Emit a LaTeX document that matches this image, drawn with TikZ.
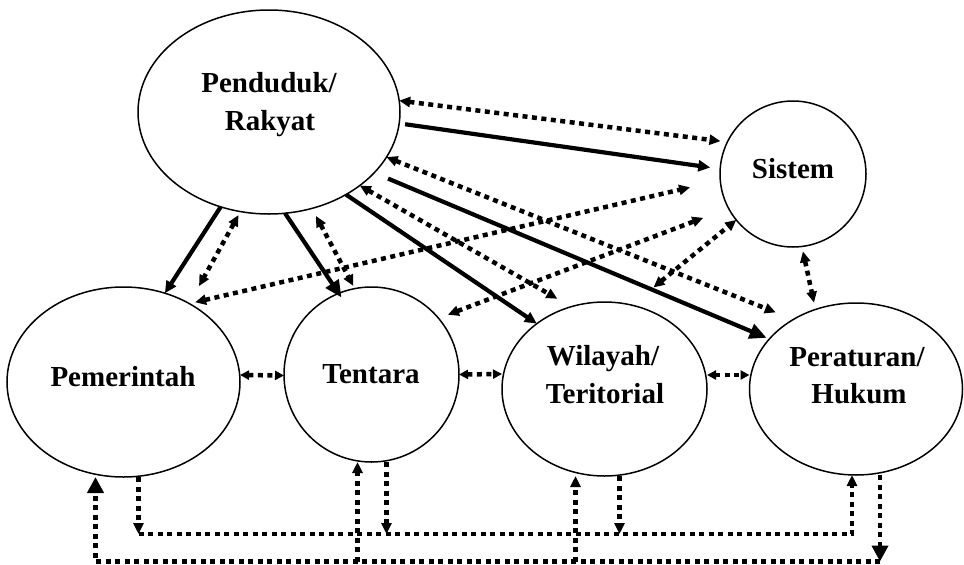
\documentclass[tikz,border=0pt]{standalone}
\usepackage{fontspec}
\setmainfont{Liberation Serif}
\usetikzlibrary{shapes.geometric,arrows.meta,calc}
\tikzset{
  bub/.style={draw, ellipse, line width=1.5pt, inner sep=0pt, outer sep=0pt},
  lbl/.style={font=\bfseries\fontsize{29}{38}\selectfont, inner sep=0pt, anchor=base},
  sol/.style={line width=4.2pt, -{Triangle[length=12pt,width=11pt]}},
  soltipbig/.style={-{Triangle[length=17pt,width=15pt]}},
  dots/.style={line width=4.5pt, dash pattern=on 5pt off 4.5pt,
    {Triangle[length=11pt,width=10pt]}-{Triangle[length=11pt,width=10pt]}},
  hdots/.style={line width=4.5pt, dash pattern=on 5pt off 4.5pt,
    {Triangle[length=9pt,width=9pt]}-{Triangle[length=9pt,width=9pt]}},
  vdots/.style={line width=4.5pt, dash pattern=on 5pt off 4.5pt,
    -{Triangle[length=11pt,width=10pt]}},
  vdotsbig/.style={line width=4.5pt, dash pattern=on 5pt off 4.5pt,
    -{Triangle[length=16pt,width=16pt]}}
}
\begin{document}
\begin{tikzpicture}[x=1pt,y=-1pt]
\useasboundingbox (0,0) rectangle (964,565);

% bubbles
\node[bub, minimum width=262pt, minimum height=204pt] (pend) at (269,112) {};
\node[bub, minimum width=146pt, minimum height=146pt] (sis) at (793,174) {};
\node[bub, minimum width=233pt, minimum height=190pt] (pem) at (123.5,382) {};
\node[bub, minimum width=175pt, minimum height=175pt] (ten) at (371.5,374.5) {};
\node[bub, minimum width=205pt, minimum height=174pt] (wil) at (604.5,389) {};
\node[bub, minimum width=213pt, minimum height=172pt] (per) at (856,389) {};

% labels
\node[lbl] (pendA) at (269,92) {Penduduk/};
\node[lbl] (pendB) at (270,130) {Rakyat};
\node[lbl] (sisA) at (793,178) {Sistem};
\node[lbl] (pemA) at (123,386) {Pemerintah};
\node[lbl] (tenA) at (371,383) {Tentara};
\node[lbl] (wilA) at (603,365) {Wilayah/};
\node[lbl] (wilB) at (605,403) {Teritorial};
\node[lbl] (perA) at (857,366) {Peraturan/};
\node[lbl] (perB) at (859,403) {Hukum};

% solid arrows from Penduduk
\draw[sol] (pend.-117.3) -- (pem.65);
\draw[sol, soltipbig, shorten >=-5pt] (pend.-81.2) -- (ten.112.8);
\draw[sol] (pend.-47.1) -- (wil.136.7);
\draw[sol, soltipbig, shorten <=15pt, shorten >=3pt] (pend.-30.9) -- (per.150.3);
\draw[sol, shorten <=6pt, shorten >=10pt] (pend.-5.9) -- (sis.176.4);

% dotted two-way arrows
\draw[dots, shorten >=7pt] (pend.5.6) -- (sis.154.8);
\draw[dots, shorten >=19pt] (pend.-21.6) -- (per.132.6);
\draw[dots, shorten >=16pt] (pend.-39.9) -- (wil.112);
\draw[dots, shorten <=4pt, shorten >=20pt] (pend.-106.1) -- (pem.50.9);
\draw[dots, shorten <=8.6pt, shorten >=3pt] (pend.-66) -- (ten.101.4);
\draw[dots, shorten <=6pt, shorten >=31pt] (pem.50.7) -- (sis.-175.3);
\draw[dots, shorten <=10pt, shorten >=27pt] (ten.40.8) -- (sis.-152.6);
\draw[dots, shorten <=28pt] (wil.72.8) -- (sis.-141.6);
\draw[dots, shorten <=5pt, shorten >=7pt] (sis.-83.4) -- (per.117.6);

% horizontal two-way arrows
\draw[hdots] ([yshift=7pt]pem.east) -- ([yshift=-1pt]ten.west);
\draw[hdots] (ten.east) -- ([yshift=15pt]wil.west);
\draw[hdots] ([yshift=14pt]wil.east) -- ([yshift=14pt]per.west);

% bottom rails
\coordinate (railA) at (0,534);
\coordinate (railB) at (0,561.5);

% upper rail
\draw[vdots] ([xshift=15pt]pem.south) -- ([xshift=15pt]pem.south |- railA);
\draw[vdots] ([xshift=15pt]ten.south) -- ([xshift=15pt]ten.south |- railA);
\draw[vdots] ([xshift=15pt]wil.south) -- ([xshift=15pt]wil.south |- railA);
\draw[vdots] ([xshift=15pt]pem.south |- railA) -| ([xshift=-4pt]per.south);

% lower rail
\draw[vdotsbig] ([xshift=24pt]per.south) -- ([xshift=24pt]per.south |- railB);
\draw[vdotsbig] ([xshift=24pt]per.south |- railB) -| ([xshift=-28pt]pem.south);
\draw[vdots] ([xshift=-14pt]ten.south |- railB) -- ([xshift=-14pt]ten.south);
\draw[vdots] ([xshift=-29pt]wil.south |- railB) -- ([xshift=-29pt]wil.south);
\end{tikzpicture}
\end{document}
